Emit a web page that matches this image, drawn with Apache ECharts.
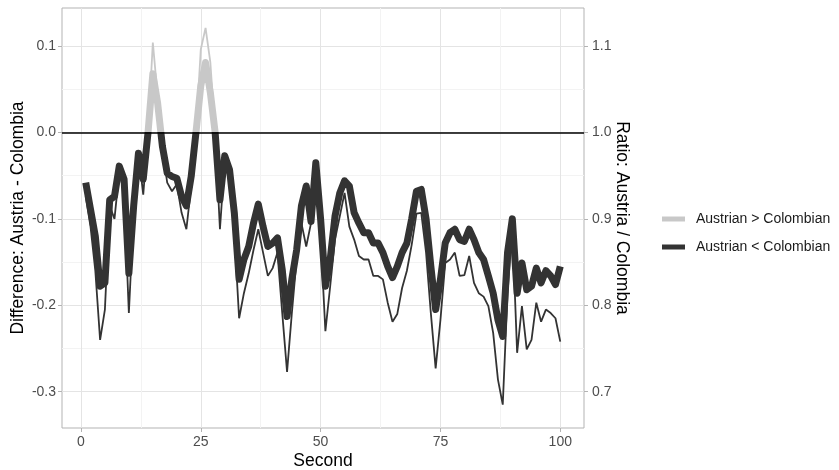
<!DOCTYPE html>
<html>
<head>
<meta charset="utf-8">
<title>Austria vs Colombia</title>
<script src="https://cdn.jsdelivr.net/npm/echarts@6/dist/echarts.min.js"></script>
<style>
    html, body { margin: 0; padding: 0; background: #fff; }
    #chart { width: 839px; height: 470px; }
</style>
</head>
<body>
<div id="chart"></div>
<script>
// 秒 1..100
const seconds = Array.from({ length: 100 }, (_, i) => i + 1);

// Difference: Austria - Colombia (细线, 左轴)
const difference = [
    -0.074, -0.109, -0.160, -0.240, -0.205, -0.085, -0.100, -0.045, -0.070, -0.209,
    -0.093, -0.024, -0.072, 0.000, 0.104, 0.042, -0.020, -0.058, -0.068, -0.060,
    -0.093, -0.112, -0.062, 0.000, 0.096, 0.121, 0.081, 0.000, -0.112, -0.031,
    -0.047, -0.116, -0.215, -0.186, -0.163, -0.136, -0.112, -0.139, -0.166, -0.157,
    -0.139, -0.209, -0.277, -0.209, -0.147, -0.105, -0.132, -0.105, -0.039, -0.120,
    -0.230, -0.178, -0.124, -0.097, -0.070, -0.109, -0.124, -0.143, -0.147, -0.147,
    -0.166, -0.166, -0.170, -0.197, -0.219, -0.210, -0.180, -0.160, -0.130, -0.094,
    -0.093, -0.139, -0.209, -0.273, -0.217, -0.151, -0.147, -0.139, -0.166, -0.165,
    -0.143, -0.174, -0.186, -0.190, -0.201, -0.232, -0.286, -0.315, -0.186, -0.110,
    -0.255, -0.201, -0.251, -0.240, -0.197, -0.219, -0.205, -0.209, -0.215, -0.242
];

// Ratio: Austria / Colombia (粗线, 右轴)
const ratio = [
    0.942, 0.911, 0.880, 0.822, 0.826, 0.922, 0.926, 0.961, 0.946, 0.837,
    0.915, 0.976, 0.946, 1.000, 1.068, 1.034, 0.984, 0.953, 0.949, 0.947,
    0.926, 0.915, 0.949, 1.000, 1.054, 1.081, 1.046, 1.000, 0.922, 0.973,
    0.957, 0.907, 0.830, 0.853, 0.868, 0.895, 0.917, 0.891, 0.868, 0.872,
    0.878, 0.841, 0.787, 0.830, 0.864, 0.915, 0.938, 0.897, 0.965, 0.900,
    0.822, 0.853, 0.903, 0.930, 0.944, 0.938, 0.907, 0.895, 0.884, 0.884,
    0.872, 0.872, 0.861, 0.845, 0.832, 0.845, 0.861, 0.872, 0.900, 0.932,
    0.934, 0.900, 0.845, 0.795, 0.830, 0.872, 0.884, 0.888, 0.876, 0.874,
    0.888, 0.876, 0.861, 0.853, 0.834, 0.814, 0.783, 0.764, 0.861, 0.900,
    0.814, 0.849, 0.818, 0.822, 0.843, 0.826, 0.840, 0.834, 0.824, 0.845
];

// 刻度
const xMajorTicks = [0, 25, 50, 75, 100];
const xMinorTicks = [12.5, 37.5, 62.5, 87.5];
const diffMajorTicks = [-0.3, -0.2, -0.1, 0, 0.1];
const diffMinorTicks = [-0.25, -0.15, -0.05, 0.05];
const ratioTicks = [0.7, 0.8, 0.9, 1.0, 1.1];

const legendLabels = ['Austrian > Colombian', 'Austrian < Colombian'];

const FONT = '"Liberation Sans", Arial, Helvetica, sans-serif';
const DARK = '#333333';
const LIGHT = '#c8c8c8';

// ggplot 的扩展范围
const X_MIN = -3.95, X_MAX = 104.95;
const D_MIN = -0.342, D_MAX = 0.144;

const axisText = { color: '#4d4d4d', fontSize: 14, fontFamily: FONT };
const titleText = { color: '#000', fontSize: 17.5, fontFamily: FONT };
const majorGrid = { lineStyle: { color: '#e4e4e4', width: 1 } };
const minorGrid = { lineStyle: { color: '#f3f3f3', width: 1 } };
const noLine = { show: false, onZero: false };

const pairs = arr => seconds.map((s, i) => [s, arr[i]]);

const chartDom = echarts.init(document.getElementById('chart'), null, { renderer: 'canvas' });

const options = {
    animation: false,
    backgroundColor: '#fff',
    grid: {
        left: 62,
        top: 8,
        width: 522,
        height: 420,
        containLabel: false,
        outerBoundsMode: 'none',
        show: true,
        borderColor: '#b3b3b3',
        borderWidth: 1,
        backgroundColor: 'transparent'
    },
    xAxis: [
        {
            type: 'value',
            min: X_MIN,
            max: X_MAX,
            position: 'bottom',
            name: 'Second',
            nameLocation: 'middle',
            nameGap: 24,
            nameMoveOverlap: false,
            nameTextStyle: titleText,
            axisLine: noLine,
            axisTick: { show: true, length: 4, customValues: xMajorTicks, lineStyle: { color: '#b3b3b3' } },
            axisLabel: Object.assign({ margin: 7, customValues: xMajorTicks }, axisText),
            splitLine: Object.assign({ show: true }, majorGrid)
        },
        {
            // 次网格线
            type: 'value',
            min: X_MIN,
            max: X_MAX,
            position: 'top',
            axisLine: noLine,
            axisTick: { show: false, customValues: xMinorTicks },
            axisLabel: { show: false, customValues: xMinorTicks },
            splitLine: Object.assign({ show: true }, minorGrid)
        }
    ],
    yAxis: [
        {
            type: 'value',
            min: D_MIN,
            max: D_MAX,
            position: 'left',
            name: 'Difference: Austria - Colombia',
            nameLocation: 'middle',
            nameGap: 35,
            nameMoveOverlap: false,
            nameTextStyle: titleText,
            axisLine: noLine,
            axisTick: { show: true, length: 4, customValues: diffMajorTicks, lineStyle: { color: '#b3b3b3' } },
            axisLabel: Object.assign({
                margin: 6,
                customValues: diffMajorTicks,
                formatter: v => v.toFixed(1)
            }, axisText),
            splitLine: Object.assign({ show: true }, majorGrid)
        },
        {
            type: 'value',
            min: 1 + D_MIN,
            max: 1 + D_MAX,
            position: 'right',
            name: 'Ratio: Austria / Colombia',
            nameLocation: 'middle',
            nameRotate: -90,
            nameGap: 29,
            nameMoveOverlap: false,
            nameTextStyle: titleText,
            axisLine: noLine,
            axisTick: { show: true, length: 4, customValues: ratioTicks, lineStyle: { color: '#b3b3b3' } },
            axisLabel: Object.assign({
                margin: 8,
                customValues: ratioTicks,
                formatter: v => v.toFixed(1)
            }, axisText),
            splitLine: { show: false }
        },
        {
            // 次网格线
            type: 'value',
            min: D_MIN,
            max: D_MAX,
            position: 'left',
            axisLine: noLine,
            axisTick: { show: false, customValues: diffMinorTicks },
            axisLabel: { show: false, customValues: diffMinorTicks },
            splitLine: Object.assign({ show: true }, minorGrid)
        }
    ],
    // 两段配色: 有界区间, 否则 LineView 没有渐变 stops 会报错
    visualMap: [
        {
            type: 'piecewise',
            seriesIndex: 0,
            dimension: 1,
            show: false,
            pieces: [
                { gt: 0, lte: 1, color: LIGHT },
                { gte: -1, lte: 0, color: DARK }
            ]
        },
        {
            type: 'piecewise',
            seriesIndex: 1,
            dimension: 1,
            show: true,
            left: 647,
            top: 197,
            orient: 'vertical',
            align: 'left',
            itemWidth: 23,
            itemHeight: 5,
            itemGap: 14,
            itemSymbol: 'rect',
            textGap: 11,
            hoverLink: false,
            textStyle: { color: '#1a1a1a', fontSize: 14, fontFamily: FONT },
            pieces: [
                { gt: 1, lte: 2, color: LIGHT, label: legendLabels[0] },
                { gte: 0, lte: 1, color: DARK, label: legendLabels[1] }
            ]
        }
    ],
    series: [
        {
            name: 'Difference',
            type: 'line',
            xAxisIndex: 0,
            yAxisIndex: 0,
            data: pairs(difference),
            showSymbol: false,
            symbol: 'none',
            lineStyle: { width: 1.8 },
            z: 3,
            markLine: {
                silent: true,
                symbol: 'none',
                label: { show: false },
                lineStyle: { color: '#000', width: 1.6, type: 'solid' },
                data: [{ yAxis: 0 }]
            }
        },
        {
            name: 'Ratio',
            type: 'line',
            xAxisIndex: 0,
            yAxisIndex: 1,
            data: pairs(ratio),
            showSymbol: false,
            symbol: 'none',
            lineStyle: { width: 7, join: 'round', cap: 'butt' },
            z: 2
        }
    ]
};

chartDom.setOption(options);
window.addEventListener('resize', () => chartDom.resize());
</script>
</body>
</html>
